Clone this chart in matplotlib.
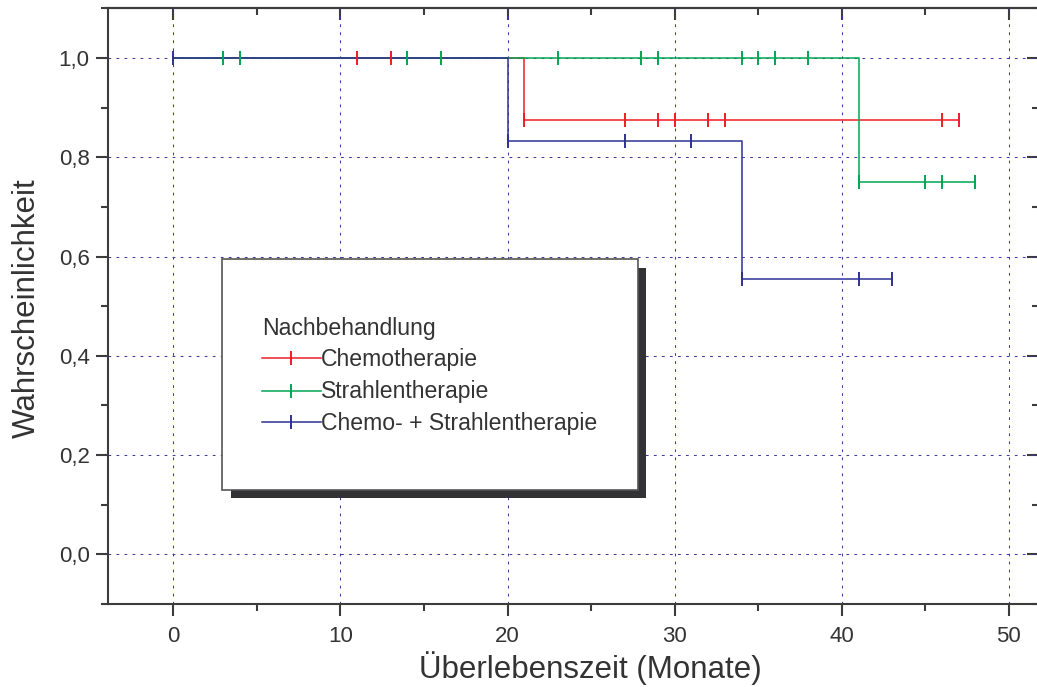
import matplotlib
matplotlib.use("Agg")
import matplotlib.pyplot as plt
from matplotlib.patches import Rectangle
from matplotlib.lines import Line2D
from matplotlib.ticker import MultipleLocator, FuncFormatter

plt.rcParams['font.family'] = ['Liberation Sans', 'DejaVu Sans']

# Kaplan-Meier step data (time in months, survival probability)
chemo_t = [0, 21, 47]
chemo_s = [1.0, 0.875, 0.875]
chemo_cens_t = [11, 13, 21, 27, 29, 30, 32, 33, 46, 47]
chemo_cens_s = [1.0, 1.0, 0.875, 0.875, 0.875, 0.875, 0.875, 0.875, 0.875, 0.875]

strahl_t = [0, 41, 48]
strahl_s = [1.0, 0.75, 0.75]
strahl_cens_t = [3, 4, 14, 16, 23, 28, 29, 34, 35, 36, 38, 41, 45, 46, 48]
strahl_cens_s = [1.0] * 11 + [0.75] * 4

kombi_t = [0, 20, 34, 43]
kombi_s = [1.0, 5 / 6, 5 / 9, 5 / 9]
kombi_cens_t = [0, 20, 27, 31, 34, 41, 43]
kombi_cens_s = [1.0, 5 / 6, 5 / 6, 5 / 6, 5 / 9, 5 / 9, 5 / 9]

series_names = ["Chemotherapie", "Strahlentherapie", "Chemo- + Strahlentherapie"]
series_colors = ["#ee1c24", "#00a651", "#2e3192"]
legend_title = "Nachbehandlung"
x_label = "Überlebenszeit (Monate)"
y_label = "Wahrscheinlichkeit"

TXT = "#333333"
SPINE = "#3c3c3c"
GRID = "#3a3aa0"

W, H = 1037, 687
fig = plt.figure(figsize=(W / 100, H / 100), dpi=100)


def fx(px):
    return px / W


def fy(py):
    return 1 - py / H


ax = fig.add_axes([fx(107.8), fy(604), fx(1039) - fx(107.8), fy(8.3) - fy(604)])
ax.set_xlim(-3.92, 51.8)
ax.set_ylim(-0.1, 1.1)

ax.xaxis.set_major_locator(MultipleLocator(10))
ax.xaxis.set_minor_locator(MultipleLocator(5))
ax.yaxis.set_major_locator(MultipleLocator(0.2))
ax.yaxis.set_minor_locator(MultipleLocator(0.1))
ax.yaxis.set_major_formatter(FuncFormatter(lambda v, p: f"{v:.1f}".replace(".", ",")))

for sp in ax.spines.values():
    sp.set_linewidth(1.5)
    sp.set_color(SPINE)

ax.tick_params(which='major', length=8.5, width=1.5, color=SPINE,
               labelsize=16, labelcolor=TXT)
ax.tick_params(which='minor', length=5, width=1.5, color=SPINE)
ax.tick_params(axis='x', which='major', pad=7)
ax.tick_params(axis='y', which='major', pad=4.5)

# inward ticks on the top and right frame
top = ax.secondary_xaxis('top')
top.xaxis.set_major_locator(MultipleLocator(10))
top.xaxis.set_minor_locator(MultipleLocator(5))
top.tick_params(which='major', direction='in', length=8.5, width=1.5, color=SPINE, labeltop=False)
top.tick_params(which='minor', direction='in', length=5, width=1.5, color=SPINE)
right = ax.secondary_yaxis('right')
right.yaxis.set_major_locator(MultipleLocator(0.2))
right.yaxis.set_minor_locator(MultipleLocator(0.1))
right.tick_params(which='major', direction='in', length=8.5, width=1.5, color=SPINE, labelright=False)
right.tick_params(which='minor', direction='in', length=5, width=1.5, color=SPINE)
for sec in (top, right):
    for sp in sec.spines.values():
        sp.set_linewidth(1.5)
        sp.set_color(SPINE)

ax.set_axisbelow(True)
ax.grid(True, which='major', color=GRID, linewidth=0.75, linestyle=(0, (2.6, 5.1)))

steps = [(chemo_t, chemo_s, chemo_cens_t, chemo_cens_s),
         (strahl_t, strahl_s, strahl_cens_t, strahl_cens_s),
         (kombi_t, kombi_s, kombi_cens_t, kombi_cens_s)]
for (t, s, ct, cs), col in zip(steps, series_colors):
    ax.plot(t, s, drawstyle='steps-post', color=col, linewidth=1.1, zorder=3)
for (t, s, ct, cs), col in zip(steps, series_colors):
    ax.plot(ct, cs, linestyle='none', marker='|', markersize=9.5,
            markeredgewidth=1.4, color=col, zorder=4)

# axis titles
fig.text(fx(590), fy(678), x_label, fontsize=22.5, color=TXT,
         ha='center', va='baseline')
fig.text(fx(35), fy(308), y_label, fontsize=22.5, color=TXT, rotation=90,
         rotation_mode='anchor', ha='center', va='baseline')

# legend box with drop shadow
bx0, by0, bx1, by1 = 222, 259, 637.5, 489.5
fig.add_artist(Rectangle((fx(bx0 + 8.5), fy(by1 + 8.5)), fx(bx1 - bx0), fy(by0) - fy(by1),
                         transform=fig.transFigure, facecolor="#333336",
                         edgecolor='none', zorder=10))
fig.add_artist(Rectangle((fx(bx0), fy(by1)), fx(bx1 - bx0), fy(by0) - fy(by1),
                         transform=fig.transFigure, facecolor='white',
                         edgecolor='#555555', linewidth=1.2, zorder=11))
fig.text(fx(262), fy(335), legend_title, fontsize=16.6, color=TXT,
         ha='left', va='baseline', zorder=12)
row_y = [358.3, 390.7, 422]
row_base = [366, 398, 430]
for name, col, ly, lb in zip(series_names, series_colors, row_y, row_base):
    fig.add_artist(Line2D([fx(262), fx(321)], [fy(ly), fy(ly)], transform=fig.transFigure,
                          color=col, linewidth=1.1, zorder=12))
    fig.add_artist(Line2D([fx(291)], [fy(ly)], transform=fig.transFigure, color=col,
                          marker='|', markersize=9.5, markeredgewidth=1.4,
                          linestyle='none', zorder=12))
    fig.text(fx(321), fy(lb), name, fontsize=16.6, color=TXT,
             ha='left', va='baseline', zorder=12)

fig.savefig("out.png", dpi=100)
